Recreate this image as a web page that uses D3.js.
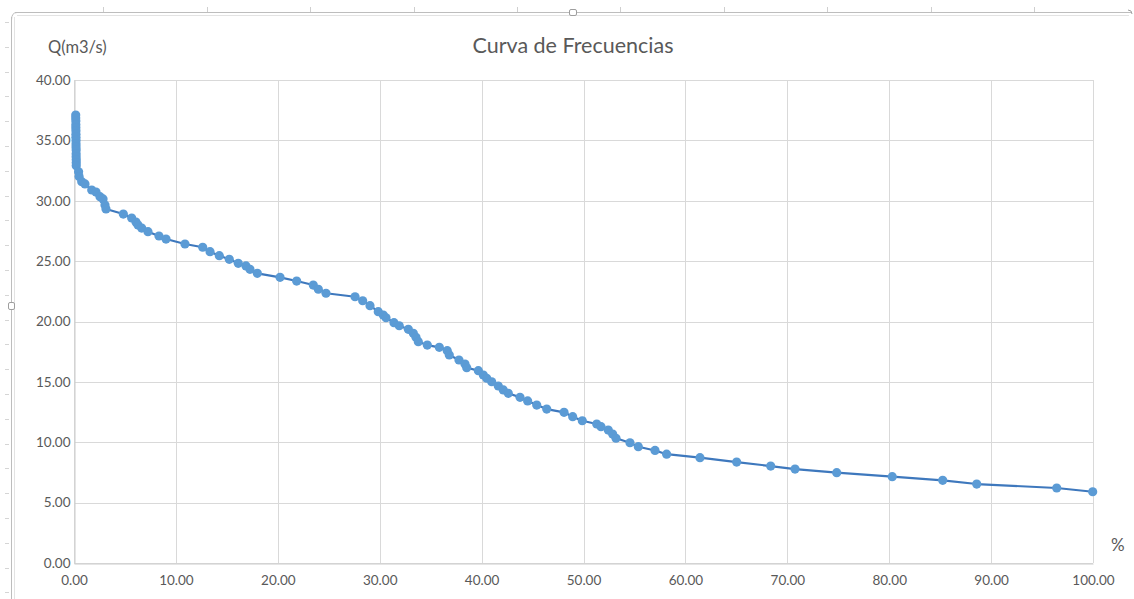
<!DOCTYPE html>
<html>
<head>
<meta charset="utf-8">
<script src="https://cdn.jsdelivr.net/npm/d3@7"></script>
<style>
  html, body { margin: 0; padding: 0; background: #ffffff; }
  svg { display: block; }
  text { font-family: Lato, "Open Sans", sans-serif; fill: #595959; }
</style>
</head>
<body>
<svg id="chart" width="1134" height="599"></svg>
<script>
// ---- data ----
const title = "Curva de Frecuencias";
const yAxisLabel = "Q(m3/s)";
const xAxisLabel = "%";
const percent = [
  0.17, 0.17, 0.18, 0.18, 0.18, 0.19, 0.19, 0.19, 0.20, 0.20, 0.20, 0.21, 0.21, 0.21, 0.22, 0.22, 0.22,
  0.45, 0.50, 0.76, 1.08, 1.74, 2.16, 2.55, 2.85, 3.04, 3.14, 4.84, 5.66, 6.08, 6.28, 6.64, 7.26,
  8.34, 9.03, 10.89, 12.63, 13.35, 14.26, 15.24, 16.12, 16.88, 17.27, 17.99, 20.22, 21.85, 23.48,
  23.98, 24.73, 27.58, 28.33, 29.05, 29.86, 30.35, 30.62, 31.40, 31.92, 32.81, 33.30, 33.56, 33.79,
  34.67, 35.85, 36.63, 36.83, 37.78, 38.37, 38.54, 39.68, 40.17, 40.50, 40.99, 41.64, 42.13, 42.62,
  43.77, 44.52, 45.41, 46.39, 48.09, 48.94, 49.88, 51.30, 51.72, 52.43, 52.86, 53.19, 54.56, 55.38,
  57.02, 58.16, 61.43, 65.03, 68.37, 70.76, 74.85, 80.30, 85.25, 88.59, 96.44, 99.97
];
const flow = [
  37.10, 36.85, 36.60, 36.30, 36.05, 35.80, 35.50, 35.25, 35.00, 34.70, 34.45, 34.20, 33.90, 33.65, 33.40, 33.15, 32.90,
  32.40, 32.00, 31.58, 31.39, 30.89, 30.72, 30.34, 30.15, 29.65, 29.32, 28.90, 28.57, 28.24, 27.99, 27.74, 27.44,
  27.08, 26.83, 26.42, 26.15, 25.78, 25.45, 25.15, 24.82, 24.60, 24.32, 23.99, 23.66, 23.35, 23.02,
  22.67, 22.34, 22.05, 21.72, 21.31, 20.81, 20.54, 20.31, 19.90, 19.65, 19.35, 19.02, 18.69, 18.33,
  18.05, 17.86, 17.58, 17.23, 16.81, 16.48, 16.17, 15.93, 15.57, 15.30, 15.01, 14.66, 14.33, 14.05,
  13.72, 13.42, 13.08, 12.75, 12.48, 12.12, 11.78, 11.51, 11.29, 11.01, 10.68, 10.33, 9.96, 9.63,
  9.32, 9.01, 8.72, 8.36, 8.03, 7.78, 7.48, 7.15, 6.85, 6.54, 6.21, 5.90
];
const xTicks = [0, 10, 20, 30, 40, 50, 60, 70, 80, 90, 100];
const yTicks = [0, 5, 10, 15, 20, 25, 30, 35, 40];

const data = percent.map((p, i) => ({ p: p, q: flow[i] }));

// ---- layout ----
const svg = d3.select("#chart");
const W = 1134, H = 599;
const plot = { left: 74, right: 1093, top: 80, bottom: 563 };

const x = d3.scaleLinear().domain([0, 100]).range([plot.left, plot.right]);
const y = d3.scaleLinear().domain([0, 40]).range([plot.bottom, plot.top]);

// ---- outer frame (embedded chart border / ruler) ----
const frame = svg.append("g");
frame.append("line").attr("x1", 15).attr("x2", 1131).attr("y1", 12.5).attr("y2", 12.5)
  .attr("stroke", "#bdbdbd").attr("stroke-width", 1);
frame.append("line").attr("x1", 17).attr("x2", 1129).attr("y1", 15.5).attr("y2", 15.5)
  .attr("stroke", "#e3e3e3").attr("stroke-width", 1);
frame.append("line").attr("x1", 11.5).attr("x2", 11.5).attr("y1", 17).attr("y2", H)
  .attr("stroke", "#bdbdbd").attr("stroke-width", 1);
frame.append("line").attr("x1", 14.5).attr("x2", 14.5).attr("y1", 17).attr("y2", H)
  .attr("stroke", "#e3e3e3").attr("stroke-width", 1);
frame.append("path").attr("d", "M11.5,20 Q11.5,12.5 17,12.5").attr("fill", "none")
  .attr("stroke", "#bdbdbd");
for (let i = 1; i <= 10; i++) {
  const tx = Math.round(103.4 * i) + 0.5;
  frame.append("line").attr("x1", tx).attr("x2", tx).attr("y1", 7).attr("y2", 12)
    .attr("stroke", "#cfcfcf");
}
for (let ty = 22; ty < H; ty += 24.8) {
  frame.append("line").attr("x1", 5).attr("x2", 9).attr("y1", Math.round(ty) + 0.5).attr("y2", Math.round(ty) + 0.5)
    .attr("stroke", "#d5d5d5");
}
frame.append("rect").attr("x", 569.5).attr("y", 9.5).attr("width", 7).attr("height", 6).attr("rx", 1.5)
  .attr("fill", "#fff").attr("stroke", "#9e9e9e");
frame.append("rect").attr("x", 8.5).attr("y", 302.5).attr("width", 6).attr("height", 7).attr("rx", 1.5)
  .attr("fill", "#fff").attr("stroke", "#9e9e9e");
frame.append("path").attr("d", "M1128,10 Q1132,10 1132,14").attr("fill", "none").attr("stroke", "#9e9e9e");

// ---- gridlines ----
const grid = svg.append("g");
grid.selectAll("line.h").data(yTicks).enter().append("line")
  .attr("x1", plot.left).attr("x2", plot.right)
  .attr("y1", d => Math.round(y(d)) + 0.5).attr("y2", d => Math.round(y(d)) + 0.5)
  .attr("stroke", "#d9d9d9").attr("stroke-width", 1);
grid.selectAll("line.v").data(xTicks).enter().append("line")
  .attr("x1", d => Math.round(x(d)) + 0.5).attr("x2", d => Math.round(x(d)) + 0.5)
  .attr("y1", plot.top).attr("y2", plot.bottom)
  .attr("stroke", "#d9d9d9").attr("stroke-width", 1);

// ---- axes ----
const xAxis = d3.axisBottom(x).tickValues(xTicks).tickFormat(d3.format(".2f")).tickSize(0).tickPadding(12);
const gx = svg.append("g").attr("transform", `translate(0,${plot.bottom + 0.5})`).call(xAxis);
gx.select(".domain").attr("stroke", "#cccccc");
gx.selectAll("text").style("font-size", "13.5px").attr("fill", "#595959");

const yAxis = d3.axisLeft(y).tickValues(yTicks).tickFormat(d3.format(".2f")).tickSize(0).tickPadding(4);
const gy = svg.append("g").attr("transform", `translate(${plot.left + 0.5},0)`).call(yAxis);
gy.select(".domain").attr("stroke", "#cccccc");
gy.selectAll("text").style("font-size", "13.5px").attr("fill", "#595959");

// ---- series ----
const line = d3.line().x(d => x(d.p)).y(d => y(d.q));
svg.append("path").datum(data).attr("d", line)
  .attr("fill", "none").attr("stroke", "#3e78bd").attr("stroke-width", 2.2)
  .attr("stroke-linejoin", "round");
svg.append("g").selectAll("circle").data(data).enter().append("circle")
  .attr("cx", d => x(d.p)).attr("cy", d => y(d.q)).attr("r", 4.6)
  .attr("fill", "#5b9bd5");

// ---- titles ----
svg.append("text").attr("x", 573).attr("y", 53).attr("text-anchor", "middle")
  .style("font-size", "21.5px").text(title);
svg.append("text").attr("x", 48).attr("y", 53)
  .style("font-size", "16.5px").attr("fill", "#404040").text(yAxisLabel);
svg.append("text").attr("x", 1111).attr("y", 551)
  .style("font-size", "17px").attr("fill", "#404040").text(xAxisLabel);
</script>
</body>
</html>
